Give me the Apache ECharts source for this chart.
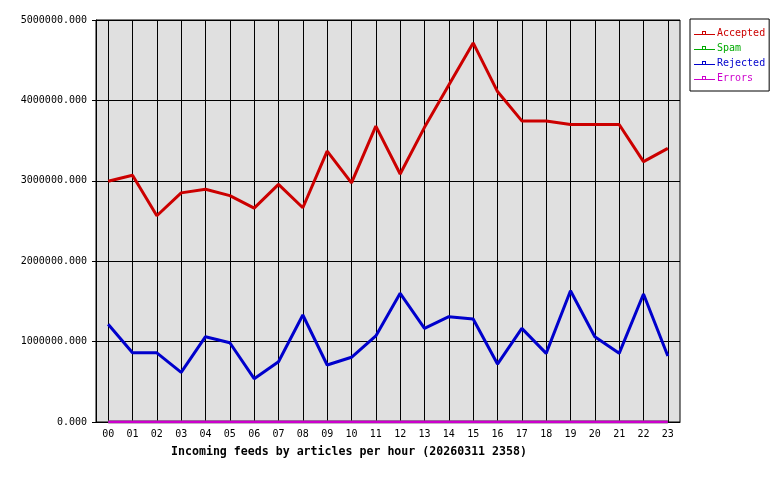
<!DOCTYPE html>
<html>
<head>
<meta charset="utf-8">
<script src="https://cdn.jsdelivr.net/npm/echarts@6/dist/echarts.min.js"></script>
<style>html,body{margin:0;padding:0;background:#fff;}#c{width:780px;height:480px;}</style>
</head>
<body>
<div id="c"></div>
<script>
var hours = ['00','01','02','03','04','05','06','07','08','09','10','11','12','13','14','15','16','17','18','19','20','21','22','23'];
var accepted = [2995000,3070000,2565000,2850000,2895000,2815000,2660000,2955000,2665000,3370000,2975000,3680000,3085000,3665000,4190000,4715000,4110000,3745000,3745000,3700000,3700000,3700000,3238000,3404000];
var spam = [0,0,0,0,0,0,0,0,0,0,0,0,0,0,0,0,0,0,0,0,0,0,0,0];
var rejected = [1215000,862000,860000,618000,1061000,986000,539000,750000,1331000,709000,805000,1070000,1600000,1165000,1310000,1281000,721000,1165000,854000,1633000,1061000,854000,1592000,821000];
var errors = [0,0,0,0,0,0,0,0,0,0,0,0,0,0,0,0,0,0,0,0,0,0,0,0];
var seriesNames = ['Accepted','Spam','Rejected','Errors'];
var seriesColors = ['#cc0000','#00aa00','#0000cc','#cc00cc'];
var titleText = 'Incoming feeds by articles per hour (20260311 2358)';

var mono = 'DejaVu Sans Mono';
var iconPath = 'path://M0,3 H21 V4 H0 Z M8,0 H12 V3 H8 Z M9,1 V3 H11 V1 Z';
var dataSets = [accepted, spam, rejected, errors];

var chart = echarts.init(document.getElementById('c'), null, {renderer:'canvas'});
chart.setOption({
  animation: false,
  backgroundColor: '#ffffff',
  title: {
    text: titleText, left: 171, top: 446, padding: 0,
    textStyle: {fontFamily: mono, fontSize: 11.6, fontWeight: 'bold', color: '#000'}
  },
  legend: {
    orient: 'vertical', left: 690, top: 19,
    padding: [9, 4, 8, 4],
    itemWidth: 21, itemHeight: 10, itemGap: 5,
    backgroundColor: '#ffffff', borderColor: '#000', borderWidth: 1, borderRadius: 0,
    icon: iconPath,
    textStyle: {fontFamily: mono, fontSize: 10, lineHeight: 10, padding: [0,0,0,-3]},
    data: seriesNames.map(function(n, i){ return {name: n, textStyle: {color: seriesColors[i]}}; })
  },
  grid: {
    left: 96, top: 20, right: 100, bottom: 58,
    show: true, backgroundColor: '#e0e0e0', borderColor: '#000', borderWidth: 1
  },
  xAxis: {
    type: 'category', data: hours, boundaryGap: true,
    axisLine: {lineStyle: {color: '#000', width: 1}},
    axisTick: {show: false},
    axisLabel: {fontFamily: mono, fontSize: 10, color: '#000', margin: 7, interval: 0},
    splitLine: {show: true, alignWithLabel: true, lineStyle: {color: '#000', width: 1}}
  },
  yAxis: {
    type: 'value', min: 0, max: 5000000, interval: 1000000,
    axisLine: {show: true, lineStyle: {color: '#000', width: 1}},
    axisTick: {show: true, length: 4, lineStyle: {color: '#000'}},
    axisLabel: {fontFamily: mono, fontSize: 10, color: '#000', margin: 9,
      formatter: function(v){ return v.toFixed(3); }},
    splitLine: {show: true, lineStyle: {color: '#000', width: 1}}
  },
  series: seriesNames.map(function(n, i){
    return {
      name: n, type: 'line', data: dataSets[i],
      showSymbol: false, symbol: 'rect',
      itemStyle: {color: seriesColors[i]},
      lineStyle: {color: seriesColors[i], width: 3},
      emphasis: {disabled: true}
    };
  })
});
</script>
</body>
</html>
